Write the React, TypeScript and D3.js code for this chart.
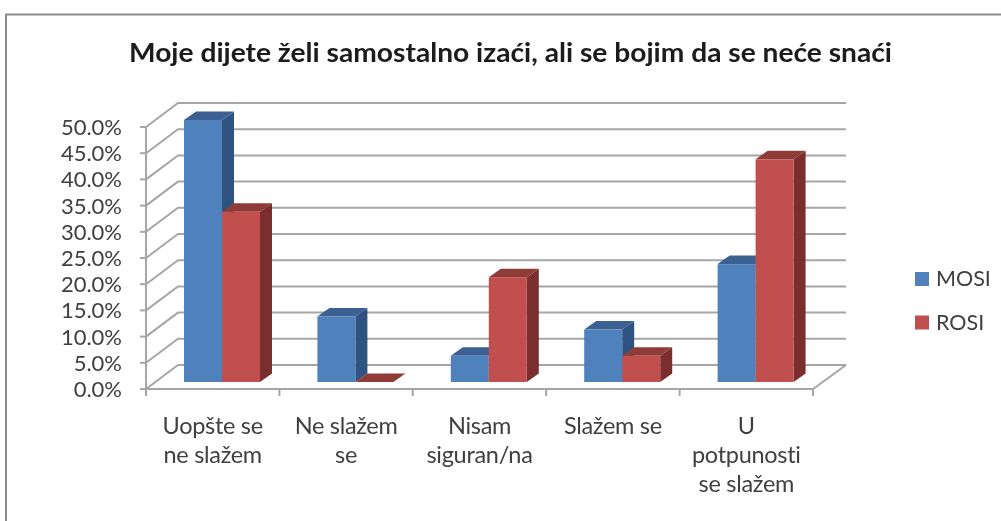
import React from 'react';
import * as d3 from 'd3';

const categories = [['Uopšte se', 'ne slažem'], ['Ne slažem', 'se'], ['Nisam', 'siguran/na'], ['Slažem se'], ['U', 'potpunosti', 'se slažem']];
const mosi = [50, 12.5, 5, 10, 22.5];
const rosi = [32.5, 0, 20, 5, 42.5];
const seriesNames = ['MOSI', 'ROSI'];
const yTicks = [0, 5, 10, 15, 20, 25, 30, 35, 40, 45, 50];
const title = 'Moje dijete želi samostalno izaći, ali se bojim da se neće snaći';

const font = 'Lato, "Open Sans", sans-serif';
const colors = [
    { front: '#4f81bd', top: '#3a6191', side: '#2f5280' },
    { front: '#c0504d', top: '#8f3b39', side: '#7a2f2d' },
];
const grid = '#a6a6a6';
const depth = { x: 32, y: -24 };
const barDepth = { x: 12, y: -8.5 };

export default function App() {
    const x = d3.scaleBand<number>().domain(d3.range(5)).range([146, 813]);
    const y = d3.scaleLinear().domain([0, 50]).range([389, 127]);
    const group = d3.scaleBand<number>().domain([0, 1]).range([0, 76]);
    const barY = (v: number) => y(v) - 7;
    const barLeft = (i: number, s: number) => x(i)! + 38 + group(s)!;

    const bar = (v: number, i: number, s: number) => {
        const l = barLeft(i, s);
        const w = group.bandwidth();
        const t = barY(v);
        const b = barY(0);
        const c = colors[s];
        const dx = barDepth.x;
        const dy = barDepth.y;
        return (
            <g key={s + '-' + i}>
                <path d={`M${l + w},${t}L${l + w + dx},${t + dy}L${l + w + dx},${b + dy}L${l + w},${b}Z`} fill={c.side} />
                <path d={`M${l},${t}L${l + dx},${t + dy}L${l + w + dx},${t + dy}L${l + w},${t}Z`} fill={c.top} />
                {v > 0 && <rect x={l} y={t} width={w} height={b - t} fill={c.front} />}
            </g>
        );
    };

    return (
        <svg width={1001} height={521} style={{ position: 'absolute', left: 0, top: 0, background: '#fff' }}>
            <defs>
                <filter id="soft" x="-5%" y="-5%" width="110%" height="110%">
                    <feGaussianBlur stdDeviation="0.7" />
                </filter>
            </defs>
            <g filter="url(#soft)">
                <path d="M6,521V14.5H1001" fill="none" stroke="#8c8c8c" strokeWidth={2} />

                {/* walls */}
                <g stroke={grid} strokeWidth={2} fill="none">
                    {yTicks.map(d => (
                        <path key={d} d={`M${146},${y(d)}L${146 + depth.x},${y(d) + depth.y}H${846}`} />
                    ))}
                    <path d={`M146,${y(0)}V${y(50)}`} />
                    <path d={`M146,${y(0)}H813L846,${y(0) + depth.y}`} />
                    {yTicks.map(d => (
                        <path key={d} d={`M140,${y(d)}H146`} />
                    ))}
                    {d3.range(6).map(i => (
                        <path key={i} d={`M${146 + i * x.bandwidth()},${y(0)}V${y(0) + 7}`} />
                    ))}
                </g>

                {mosi.map((v, i) => (
                    <g key={i}>
                        {bar(v, i, 0)}
                        {bar(rosi[i], i, 1)}
                    </g>
                ))}

                {yTicks.map(d => (
                    <text key={d} x={122} y={y(d) + 8} textAnchor="end" fontFamily={font} fontSize={22} fill="#404040">
                        {d3.format('.1f')(d) + '%'}
                    </text>
                ))}

                {categories.map((lines, i) => (
                    <text key={i} textAnchor="middle" fontFamily={font} fontSize={23.5} letterSpacing={-0.3} fill="#404040">
                        {lines.map((line, j) => (
                            <tspan key={j} x={x(i)! + x.bandwidth() / 2} y={434 + j * 29}>{line}</tspan>
                        ))}
                    </text>
                ))}

                <text x={510.5} y={62} textAnchor="middle" fontFamily={font} fontSize={26} fontWeight={700} fill="#1a1a1a" textLength={763} lengthAdjust="spacingAndGlyphs">{title}</text>

                {seriesNames.map((name, s) => (
                    <g key={name}>
                        <rect x={915} y={272 + s * 43.5} width={14} height={14} fill={colors[s].front} />
                        <text x={936} y={286 + s * 43.5} fontFamily={font} fontSize={21.5} fill="#404040">{name}</text>
                    </g>
                ))}
            </g>
        </svg>
    );
}
